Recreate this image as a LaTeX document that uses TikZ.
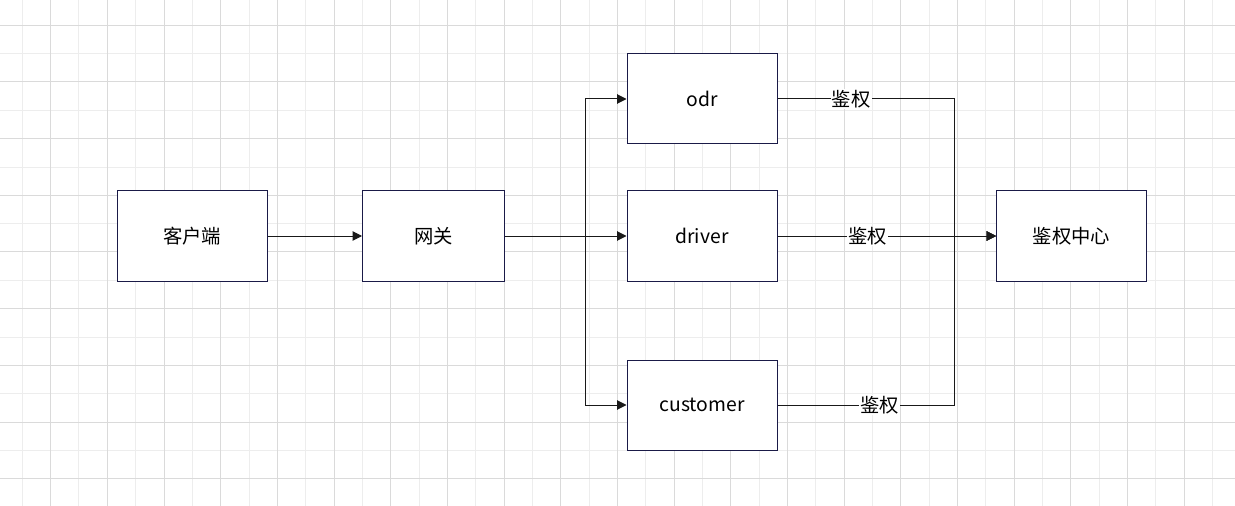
\documentclass[tikz,border=0pt]{standalone}
\usepackage{fontspec}
\setmainfont{Noto Sans CJK SC}
\usetikzlibrary{arrows.meta}
\definecolor{boxline}{HTML}{1A1A47}
\definecolor{gridmajor}{HTML}{DADADA}
\definecolor{gridminor}{HTML}{EDEDED}

\begin{document}
\begin{tikzpicture}[x=0.75pt,y=-0.75pt,
  every node/.style={font=\fontsize{14.5}{17}\selectfont},
  block/.style={draw=boxline,line width=0.75pt,fill=white,
    minimum width=112.5pt,minimum height=67.5pt,inner sep=0pt},
  link/.style={draw=black!90,line width=0.75pt,
    -{Triangle[length=7pt,width=7pt]}},
  lbl/.style={fill=white,inner sep=1pt}]
  \useasboundingbox (0,0) rectangle (1235,506);
  \fill[white] (0,0) rectangle (1235,506);
  % background grid
  \foreach \k in {0,...,21} {
    \draw[gridminor,line width=0.75pt] ({22.33+56.667*\k},0) -- ++(0,506);
  }
  \foreach \k in {0,...,8} {
    \draw[gridminor,line width=0.75pt] (0,{53.67+56.667*\k}) -- ++(1235,0);
  }
  \foreach \k in {0,...,21} {
    \draw[gridmajor,line width=0.75pt] ({50.67+56.667*\k},0) -- ++(0,506);
  }
  \foreach \k in {0,...,8} {
    \draw[gridmajor,line width=0.75pt] (0,{25.33+56.667*\k}) -- ++(1235,0);
  }

  \node[block] (client) at (192,236) {客户端};
  \node[block,minimum width=106.5pt] (gateway) at (433.5,236) {网关};
  \node[block] (odr) at (702,99) {odr};
  \node[block] (driver) at (702,236) {driver};
  \node[block] (customer) at (702,405) {customer};
  \node[block] (auth) at (1071.5,236) {鉴权中心};

  \coordinate (fork) at (585.5,236);
  \coordinate (merge) at (954.5,236);

  \draw[link] (client) -- (gateway);
  \draw[link] (gateway) -- (driver);
  \draw[link] (fork) |- (odr);
  \draw[link] (fork) |- (customer);
  \draw[link] (odr) -- node[lbl,pos=0.417] {鉴权} (odr -| merge) |- (auth);
  \draw[link] (driver) -- node[lbl,pos=0.413] {鉴权} (auth);
  \draw[link] (customer) -- node[lbl,pos=0.578] {鉴权} (customer -| merge) |- (auth);
\end{tikzpicture}
\end{document}
